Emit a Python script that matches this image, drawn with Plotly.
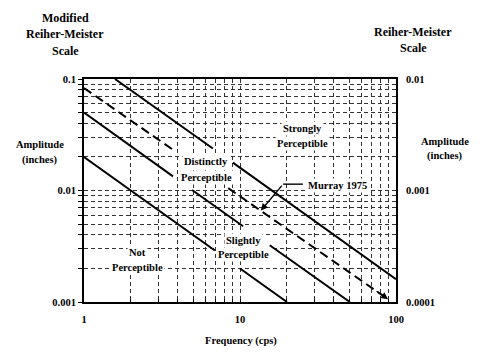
import math
import plotly.graph_objects as go

# ---- data (frequency in cps, amplitude in inches); None = gap in line
strong_f = [1.58, 6.7, None, 9.0, 100]
strong_a = [0.1, 0.0238, None, 0.0178, 0.0016]

murray_f = [1.0, 3.7, None, 8.4, 89]
murray_a = [0.083, 0.0233, None, 0.0105, 0.00106]

distinct_f = [1.0, 3.72, None, 4.93, 10.46, None, 15.5, 50.6]
distinct_a = [0.05, 0.0134, None, 0.0101, 0.00478, None, 0.00323, 0.001]

slight_f = [1.0, 6.9, None, 10.0, 20.0]
slight_a = [0.02, 0.0029, None, 0.002, 0.001]

pointer_f = [25.3, 18.9]
pointer_a = [0.0114, 0.0114]
pointer_tip_f = 13.6
pointer_tip_a = 0.0066

x_ticks = [1, 10, 100]
x_labels = ["1", "10", "100"]
y_left_ticks = [0.001, 0.01, 0.1]
y_left_labels = ["0.001", "0.01", "0.1"]
y_right_ticks = [0.0001, 0.001, 0.01]
y_right_labels = ["0.0001", "0.001", "0.01"]
x_minor = [2, 3, 4, 5, 6, 7, 8, 9, 20, 30, 40, 50, 60, 70, 80, 90]
y_minor = [0.002, 0.003, 0.004, 0.005, 0.006, 0.007, 0.008, 0.009,
           0.02, 0.03, 0.04, 0.05, 0.06, 0.07, 0.08, 0.09]

FONT = "Liberation Serif"
GRID = "#333333"
GDASH = "4px,3px"

L, R, T, B = 84, 396, 79, 302  # plot area in pixels
W, H = 490, 356

fig = go.Figure()
solid = dict(color="black", width=2)
for f, a in [(strong_f, strong_a), (distinct_f, distinct_a), (slight_f, slight_a)]:
    fig.add_trace(go.Scatter(x=f, y=a, mode="lines", line=solid, hoverinfo="skip",
                             showlegend=False, connectgaps=False))
fig.add_trace(go.Scatter(x=murray_f, y=murray_a, mode="lines",
                         line=dict(color="black", width=2, dash="9px,5px"),
                         hoverinfo="skip", showlegend=False, connectgaps=False))
fig.add_trace(go.Scatter(x=pointer_f, y=pointer_a, mode="lines",
                         line=dict(color="black", width=1.4), hoverinfo="skip", showlegend=False))
# invisible trace to anchor right axis
fig.add_trace(go.Scatter(x=[1, 1, 1], y=y_right_ticks, yaxis="y2", mode="markers",
                         marker=dict(opacity=0), hoverinfo="skip", showlegend=False))

tickfont = dict(family=FONT, size=10.5, color="black", weight="bold")

fig.update_layout(
    width=W, height=H,
    margin=dict(l=L, r=W - R, t=T, b=H - B, autoexpand=False),
    paper_bgcolor="white", plot_bgcolor="white",
    xaxis=dict(type="log", range=[0, 2], tickvals=x_ticks, ticktext=x_labels,
               ticks="inside", ticklen=3, tickcolor="black",
               showgrid=True, gridcolor=GRID, griddash=GDASH, gridwidth=1,
               minor=dict(tickvals=x_minor, showgrid=True, gridcolor=GRID, griddash=GDASH,
                          gridwidth=1, ticks="inside", ticklen=3, tickcolor="black"),
               showline=True, mirror=True, linecolor="black", linewidth=2,
               tickfont=tickfont, ticklabelstandoff=6, zeroline=False),
    yaxis=dict(type="log", range=[-3, -1], tickvals=y_left_ticks, ticktext=y_left_labels,
               ticks="outside", ticklen=4, tickcolor="black",
               showgrid=True, gridcolor=GRID, griddash=GDASH, gridwidth=1,
               minor=dict(tickvals=y_minor, showgrid=True, gridcolor=GRID, griddash=GDASH,
                          gridwidth=1, ticks="outside", ticklen=4, tickcolor="black"),
               showline=True, mirror=True, linecolor="black", linewidth=2,
               tickfont=tickfont, zeroline=False),
    yaxis2=dict(type="log", range=[-4, -2], overlaying="y", side="right",
                tickvals=y_right_ticks, ticktext=y_right_labels, ticks="",
                showgrid=False, showline=False, zeroline=False,
                tickfont=tickfont, ticklabelstandoff=9),
)

def lx(px):
    return (px - L) / ((R - L) / 2.0)

def ly(py):
    return -3 + (B - py) / ((B - T) / 2.0)

inner = [("Strongly", 302, 128), ("Perceptible", 302, 143),
         ("Distinctly", 206, 161), ("Perceptible", 206, 177),
         ("Slightly", 243, 240), ("Perceptible", 243, 254),
         ("Not", 137, 252), ("Perceptible", 137, 267),
         ("Murray 1975", 337, 185)]
for txt, px, py in inner:
    fig.add_annotation(x=lx(px), y=ly(py), xref="x", yref="y", text=txt, showarrow=False,
                       font=dict(family=FONT, size=10.5, color="black", weight="bold"),
                       bgcolor="white", borderpad=1)

# Murray pointer arrow
fig.add_annotation(x=math.log10(pointer_tip_f), y=math.log10(pointer_tip_a), xref="x", yref="y",
                   ax=math.log10(pointer_f[1]), ay=math.log10(pointer_a[1]), axref="x", ayref="y",
                   text="", showarrow=True, arrowhead=2, arrowsize=1, arrowwidth=1.4,
                   arrowcolor="black")
# arrowhead at the end of the dashed line
fig.add_annotation(x=math.log10(murray_f[-1]), y=math.log10(murray_a[-1]), xref="x", yref="y",
                   ax=-13, ay=-9, text="", showarrow=True, arrowhead=2, arrowsize=1,
                   arrowwidth=1.4, arrowcolor="black")

outer = [("Modified", 65, 18, 12), ("Reiher-Meister", 65, 34, 12), ("Scale", 65, 51, 12),
         ("Reiher-Meister", 413, 32, 12), ("Scale", 413, 48, 12),
         ("Amplitude", 40, 144, 10.5), ("(inches)", 40, 160, 10.5),
         ("Amplitude", 445, 141, 10.5), ("(inches)", 445, 156, 10.5),
         ("Frequency (cps)", 241, 341, 10.5)]
for txt, px, py, sz in outer:
    fig.add_annotation(x=(px - L) / (R - L), y=(B - py) / (B - T), xref="paper", yref="paper",
                       text=txt, showarrow=False, xanchor="center", yanchor="middle",
                       font=dict(family=FONT, size=sz, color="black", weight="bold"))

fig.write_html("out.html", config={"displayModeBar": False},
               post_script="document.body.style.margin='0';document.body.style.overflow='hidden';")
